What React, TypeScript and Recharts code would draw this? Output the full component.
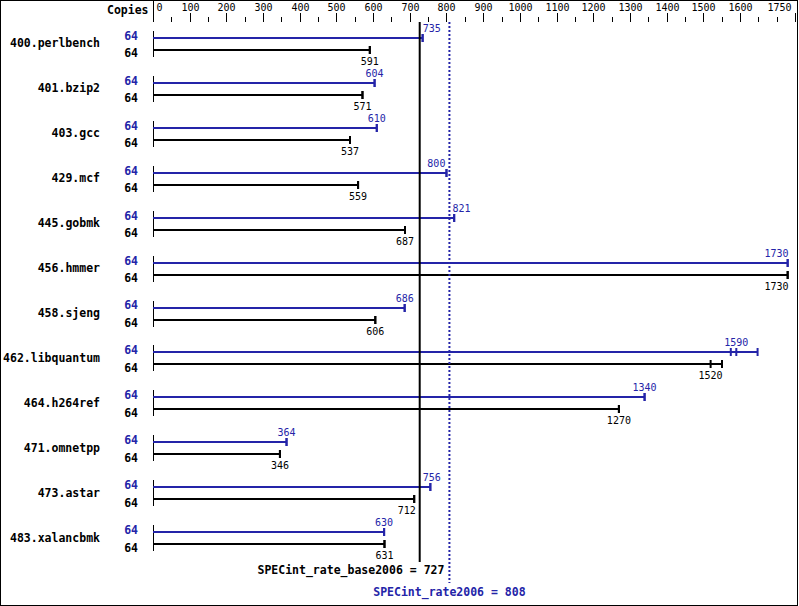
import React from 'react';
import { ComposedChart, Bar, XAxis, YAxis, ReferenceLine } from 'recharts';

const benchmarks = [
  '400.perlbench', '401.bzip2', '403.gcc', '429.mcf', '445.gobmk', '456.hmmer',
  '458.sjeng', '462.libquantum', '464.h264ref', '471.omnetpp', '473.astar', '483.xalancbmk',
];
const copies = [64, 64, 64, 64, 64, 64, 64, 64, 64, 64, 64, 64];
const peakRatio = [735, 604, 610, 800, 821, 1730, 686, 1590, 1340, 364, 756, 630];
const baseRatio = [591, 571, 537, 559, 687, 1730, 606, 1520, 1270, 346, 712, 631];
// where each bar stops (the longest run)
const peakEnd = [735, 604, 610, 800, 821, 1730, 686, 1648, 1340, 364, 756, 630];
const baseEnd = [591, 571, 537, 559, 687, 1730, 606, 1551, 1270, 346, 712, 631];
// extra run marks drawn on the bar
const peakRuns = [[], [], [], [], [], [], [], [1575], [], [], [], []];

const baseScore = 727;
const peakScore = 808;

const majorTicks = [0, 100, 200, 300, 400, 500, 600, 700, 800, 900, 1000, 1100, 1200, 1300, 1400, 1500, 1600, 1750];
const minorTicks = [50, 150, 250, 350, 450, 550, 650, 750, 850, 950, 1050, 1150, 1250, 1350, 1450, 1550, 1650, 1700];
const axisTicks = [...majorTicks, ...minorTicks].sort((a, b) => a - b);

const BLUE = '#2424a8';
const MONO = '"DejaVu Sans Mono", "Liberation Mono", monospace';

const data = benchmarks.map((name, i) => ({
  name,
  copies: copies[i],
  peak: peakRatio[i],
  base: baseRatio[i],
  peakEnd: peakEnd[i],
  baseEnd: baseEnd[i],
  peakRuns: peakRuns[i],
}));

function AxisTick(props: any) {
  const { x, payload } = props;
  const v = payload.value;
  const px = Math.round(x) + 0.5;
  const major = majorTicks.includes(v);
  let label = null;
  if (major) {
    let anchor: any = 'middle';
    let tx = px;
    if (v === 0) { anchor = 'start'; tx = px + 3; }
    if (v === 1750) { anchor = 'end'; tx = px - 4; }
    label = (
      <text x={tx} y={11} textAnchor={anchor} fontFamily={MONO} fontSize={10} fill="#000">{v}</text>
    );
  }
  return (
    <g>
      <line x1={px} x2={px} y1={major ? 13 : 17} y2={22} stroke="#000" />
      {label}
      {v === 0 && (
        <g>
          <line x1={px} x2={px} y1={0} y2={22} stroke="#000" />
          <text x={px - 5} y={14} textAnchor="end" fontFamily={MONO} fontSize={11.5} fontWeight="bold" fill="#000">Copies</text>
        </g>
      )}
    </g>
  );
}

function NameTick(props: any) {
  const { x, y, payload } = props;
  const i = benchmarks.indexOf(payload.value);
  return (
    <g fontFamily={MONO} fontSize={11.5} fontWeight="bold">
      <text x={x - 53} y={y + 3} textAnchor="end" fill="#000">{payload.value}</text>
      <text x={x - 15} y={y - 4.5} textAnchor="end" fill={BLUE}>{copies[i]}</text>
      <text x={x - 15} y={y + 13} textAnchor="end" fill="#000">{copies[i]}</text>
    </g>
  );
}

function runBar(kind: 'peak' | 'base') {
  return (props: any) => {
    const { x, y, width, height, payload } = props;
    const isPeak = kind === 'peak';
    const end = isPeak ? payload.peakEnd : payload.baseEnd;
    const value = isPeak ? payload.peak : payload.base;
    const color = isPeak ? BLUE : '#000';
    const unit = width / end;
    const cy = Math.round(y + height / 2);
    const x0 = Math.round(x) + 0.5;
    const x1 = x + width;
    const marks = [end, value, ...(isPeak ? payload.peakRuns : [])];

    const lx = x + value * unit;
    const limit = x + 1750 * unit - 4;
    const refs = [baseScore, peakScore].map((v) => x + v * unit);
    const w = String(value).length * 6;
    let anchor: any = 'middle';
    let tx = lx;
    if (lx + w / 2 > limit) {
      anchor = 'end';
      tx = lx + 1;
    } else {
      for (const r of refs) {
        if (lx - w / 2 < r + 2 && lx + w / 2 > r - 2) {
          if (lx >= r) { anchor = 'start'; tx = r + 3; } else { anchor = 'end'; tx = r - 4; }
          break;
        }
      }
    }
    const ty = isPeak ? cy - 6 : cy + 15;

    return (
      <g>
        <line x1={x0} x2={x0} y1={isPeak ? cy - 7 : cy - 6} y2={isPeak ? cy + 6 : cy + 7} stroke="#000" />
        <line x1={x} x2={x1} y1={cy} y2={cy} stroke={color} strokeWidth={2} />
        {marks.map((m: number, k: number) => (
          <line key={k} x1={x + m * unit} x2={x + m * unit} y1={cy - 4} y2={cy + 4} stroke={color} strokeWidth={2} />
        ))}
        <text x={tx} y={ty} textAnchor={anchor} fontFamily={MONO} fontSize={10} fill={color}>{value}</text>
      </g>
    );
  };
}

export default function App() {
  return (
    <div style={{ position: 'absolute', left: 0, top: 0, width: 799, height: 606, background: '#fff' }}>
      <ComposedChart
        width={799}
        height={606}
        data={data}
        layout="vertical"
        margin={{ top: 0, right: 4, bottom: 45, left: 0 }}
        barGap={0}
      >
        <XAxis
          type="number"
          orientation="top"
          domain={[0, 1750]}
          ticks={axisTicks}
          interval={0}
          tick={<AxisTick />}
          axisLine={false}
          tickLine={false}
          tickSize={0}
          tickMargin={0}
          height={22}
        />
        <YAxis
          type="category"
          dataKey="name"
          width={153}
          interval={0}
          tick={<NameTick />}
          axisLine={false}
          tickLine={false}
          tickSize={0}
          tickMargin={0}
        />
        <Bar dataKey="peakEnd" barSize={12} shape={runBar('peak')} isAnimationActive={false} />
        <Bar dataKey="baseEnd" barSize={12} shape={runBar('base')} isAnimationActive={false} />
        <ReferenceLine
          x={baseScore}
          shape={(p: any) => <line x1={p.x1} x2={p.x2} y1={p.y1} y2={p.y2 + 1} stroke="#000" strokeWidth={2} />}
        />
        <ReferenceLine
          x={peakScore}
          shape={(p: any) => (
            <g fontFamily={MONO} fontSize={11.5} fontWeight="bold">
              <line x1={p.x1} x2={p.x2} y1={p.y1} y2={p.y2 + 22} stroke={BLUE} strokeWidth={2} strokeDasharray="2 2" />
              <text x={p.x1 - 5} y={p.y2 + 13} textAnchor="end" fill="#000">{`SPECint_rate_base2006 = ${baseScore}`}</text>
              <text x={p.x1} y={p.y2 + 35} textAnchor="middle" fill={BLUE}>{`SPECint_rate2006 = ${peakScore}`}</text>
            </g>
          )}
        />
      </ComposedChart>
      <div style={{ position: 'absolute', left: 0, top: 0, width: 798, height: 606, border: '1px solid #000', boxSizing: 'border-box', pointerEvents: 'none' }} />
    </div>
  );
}
